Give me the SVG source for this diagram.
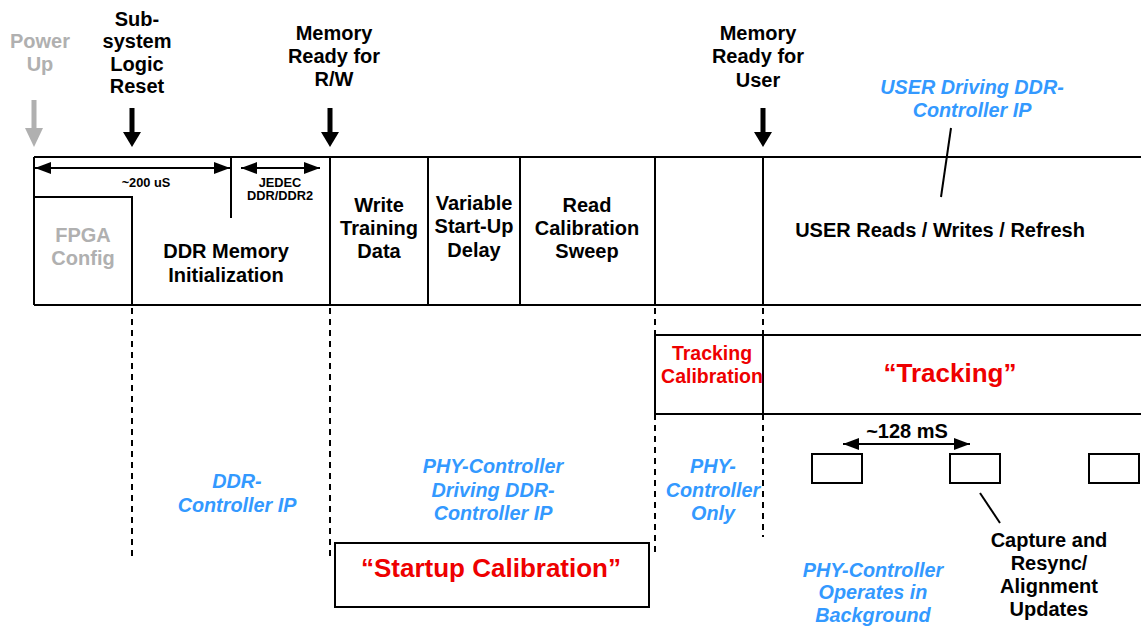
<svg xmlns="http://www.w3.org/2000/svg" width="1141" height="626" viewBox="0 0 1141 626">
<style>
text{font-family:"Liberation Sans",Arial,sans-serif;font-weight:bold;text-anchor:middle}
.t{font-size:20px;fill:#000}
.g{font-size:20px;fill:#b0b0b0}
.s{font-size:12.8px;fill:#000}
.b{font-size:19.8px;fill:#3399ff;font-style:italic}
.r{font-size:19.5px;fill:#ee0000}
.rb{font-size:26px;fill:#ee0000}
.ln{stroke:#000;stroke-width:2;fill:none}
.dash{stroke:#000;stroke-width:2;fill:none;stroke-dasharray:6 5}
</style>
<defs>
<marker id="ah" viewBox="0 0 16 12" refX="16" refY="6" markerWidth="16" markerHeight="12" markerUnits="userSpaceOnUse" orient="auto-start-reverse">
<path d="M0,0 L16,6 L0,12 Z" fill="#000"/>
</marker>
</defs>
<rect width="1141" height="626" fill="#fff"/>

<g id="event-power-up">
<text class="g" x="40" y="48">Power</text>
<text class="g" x="40" y="71">Up</text>
<rect x="31.5" y="100" width="5" height="29" fill="#b0b0b0"/>
<path d="M25,128 L43,128 L34,147 Z" fill="#b0b0b0"/>
</g>
<g id="event-subsystem-reset">
<text class="t" x="137" y="26">Sub-</text>
<text class="t" x="137" y="48">system</text>
<text class="t" x="137" y="71">Logic</text>
<text class="t" x="137" y="93">Reset</text>
<rect x="129.5" y="108" width="5" height="25" fill="#000"/>
<path d="M123,132 L141,132 L132,147 Z" fill="#000"/>
</g>
<g id="event-memory-ready-rw">
<text class="t" x="334" y="40">Memory</text>
<text class="t" x="334" y="63">Ready for</text>
<text class="t" x="334" y="86">R/W</text>
<rect x="327.5" y="108" width="5" height="25" fill="#000"/>
<path d="M321,132 L339,132 L330,147 Z" fill="#000"/>
</g>
<g id="event-memory-ready-user">
<text class="t" x="758" y="40">Memory</text>
<text class="t" x="758" y="63">Ready for</text>
<text class="t" x="758" y="87">User</text>
<rect x="760.5" y="108" width="5" height="25" fill="#000"/>
<path d="M754,132 L772,132 L763,147 Z" fill="#000"/>
</g>
<g id="label-user-driving">
<text class="b" x="972" y="94">USER Driving DDR-</text>
<text class="b" x="972" y="117">Controller IP</text>
</g>

<g id="main-band">
<path class="ln" d="M34,157 H1141 M34,305 H1141 M34,157 V305"/>
<path class="ln" d="M330,157 V305 M428,157 V305 M520,157 V305 M655,157 V305 M763,157 V305"/>
</g>
<g id="phase-fpga-config">
<path class="ln" d="M34,197 H132 V305"/>
<text class="g" x="83" y="242">FPGA</text>
<text class="g" x="83" y="265">Config</text>
</g>
<g id="phase-ddr-init">
<path class="ln" d="M231,157 V218"/>
<text class="t" x="226" y="258">DDR Memory</text>
<text class="t" x="226" y="282">Initialization</text>
<text class="s" x="146" y="187">~200 uS</text>
<text class="s" x="280" y="187">JEDEC</text>
<text class="s" x="280" y="200">DDR/DDR2</text>
</g>
<g id="phase-write-training">
<text class="t" x="379" y="212">Write</text>
<text class="t" x="379" y="235">Training</text>
<text class="t" x="379" y="258">Data</text>
</g>
<g id="phase-variable-delay">
<text class="t" x="474" y="210">Variable</text>
<text class="t" x="474" y="233">Start-Up</text>
<text class="t" x="474" y="257">Delay</text>
</g>
<g id="phase-read-calibration">
<text class="t" x="587" y="212">Read</text>
<text class="t" x="587" y="235">Calibration</text>
<text class="t" x="587" y="258">Sweep</text>
</g>
<g id="phase-user">
<text class="t" x="940" y="237">USER Reads / Writes / Refresh</text>
</g>

<g id="tracking-band">
<path class="ln" d="M655,335 H1141 M655,414 H1141 M655,335 V414 M763,335 V414"/>
<text class="r" x="712" y="360">Tracking</text>
<text class="r" x="712" y="383">Calibration</text>
<text class="rb" x="950" y="382">“Tracking”</text>
</g>

<g id="startup-calibration">
<rect class="ln" x="335" y="543" width="314" height="64"/>
<text class="rb" x="491" y="577">“Startup Calibration”</text>
</g>

<g id="label-ddr-controller">
<text class="b" x="237" y="488">DDR-</text>
<text class="b" x="237" y="512">Controller IP</text>
</g>
<g id="label-phy-driving">
<text class="b" x="493" y="473">PHY-Controller</text>
<text class="b" x="493" y="497">Driving DDR-</text>
<text class="b" x="493" y="520">Controller IP</text>
</g>
<g id="label-phy-only">
<text class="b" x="713" y="473">PHY-</text>
<text class="b" x="713" y="497">Controller</text>
<text class="b" x="713" y="520">Only</text>
</g>
<g id="label-phy-background">
<text class="b" x="873" y="577">PHY-Controller</text>
<text class="b" x="873" y="599">Operates in</text>
<text class="b" x="873" y="622">Background</text>
</g>

<g id="update-1"><rect class="ln" x="812" y="454" width="50" height="29"/></g>
<g id="update-2"><rect class="ln" x="950" y="454" width="50" height="29"/></g>
<g id="update-3"><rect class="ln" x="1089" y="454" width="50" height="29"/></g>
<g id="label-capture">
<text class="t" x="1049" y="547">Capture and</text>
<text class="t" x="1049" y="570">Resync/</text>
<text class="t" x="1049" y="593">Alignment</text>
<text class="t" x="1049" y="616">Updates</text>
</g>
<g id="label-128ms">
<text class="t" x="907" y="438">~128 mS</text>
</g>

<g id="connectors">
<path class="ln" d="M35,168 H230" marker-start="url(#ah)" marker-end="url(#ah)"/>
<path class="ln" d="M241,168 H320" marker-start="url(#ah)" marker-end="url(#ah)"/>
<path class="ln" d="M843,444 H970" marker-start="url(#ah)" marker-end="url(#ah)"/>
<path class="ln" d="M951,128 L941,197"/>
<path class="ln" d="M980,493 L1000,523"/>
<path class="dash" d="M132,308 V560"/>
<path class="dash" d="M330,308 V560"/>
<path class="dash" d="M655,308 V335 M655,414 V553"/>
<path class="dash" d="M763,308 V335 M763,414 V537"/>
</g>
</svg>
